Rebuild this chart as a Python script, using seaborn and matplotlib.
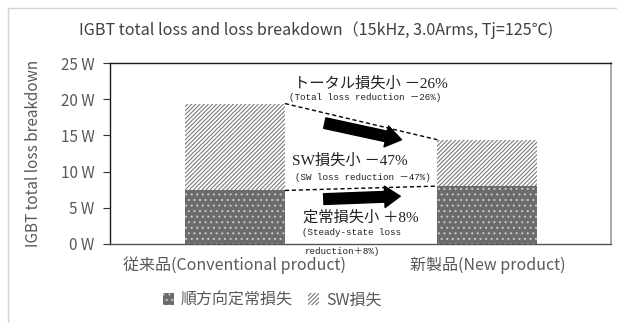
import matplotlib
matplotlib.use("Agg")
import matplotlib.pyplot as plt
import matplotlib.patches as mpatches
import seaborn as sns
import pandas as pd

# Loss breakdown per product (W)
categories = ["従来品(Conventional product)", "新製品(New product)"]
steady_loss = [7.4, 8.0]     # 順方向定常損失
sw_loss = [12.0, 6.4]        # SW損失
y_ticks = [0, 5, 10, 15, 20, 25]
y_tick_labels = ["0 W", "5 W", "10 W", "15 W", "20 W", "25 W"]

title_text = "IGBT total loss and loss breakdown（15kHz, 3.0Arms, Tj=125℃)"
legend_labels = ["順方向定常損失", "SW損失"]

sns.set_theme(style="white")
plt.rcParams["font.family"] = ["Noto Sans CJK JP", "DejaVu Sans"]
plt.rcParams["hatch.linewidth"] = 0.8

GRAY_TXT = "#595959"
STEADY_FC, STEADY_HC = "#6b6b6b", "#c4c4c4"
SW_FC, SW_HC = "white", "#7a7a7a"
SW_HATCH, STEADY_HATCH = "////////", "..."

df = pd.DataFrame({
    "product": categories,
    "steady": steady_loss,
    "sw": sw_loss,
})
df["total"] = df["steady"] + df["sw"]

fig = plt.figure(figsize=(6.17, 3.23), dpi=100)
ax = fig.add_axes([110 / 617, 1 - 244 / 323, 501 / 617, 181 / 323])

bar_w = 0.396
# total height first (SW hatch), steady part drawn over its lower section
n0 = len(ax.patches)
sns.barplot(data=df, x="product", y="total", color=SW_FC, width=bar_w,
            errorbar=None, ax=ax)
total_bars = ax.patches[n0:]
n1 = len(ax.patches)
sns.barplot(data=df, x="product", y="steady", color=STEADY_FC, width=bar_w,
            errorbar=None, ax=ax)
steady_bars = ax.patches[n1:]

for p in total_bars:
    p.set_facecolor(SW_FC)
    p.set_edgecolor(SW_HC)
    p.set_linewidth(0)
    p.set_hatch(SW_HATCH)
for p in steady_bars:
    p.set_facecolor(STEADY_FC)
    p.set_edgecolor(STEADY_HC)
    p.set_linewidth(0)
    p.set_hatch(STEADY_HATCH)

ax.set_xlim(-0.495, 1.49)
ax.set_ylim(0, 25)
ax.set_yticks(y_ticks)
ax.set_yticklabels(y_tick_labels)
ax.tick_params(axis="y", which="major", direction="out", length=5, width=0.8,
               color="#333333", pad=6, labelsize=11, labelcolor=GRAY_TXT, left=True)
ax.tick_params(axis="x", length=0, pad=9, labelsize=11.5, labelcolor=GRAY_TXT)
ax.set_xlabel("")
ax.set_ylabel("IGBT total loss breakdown", fontsize=11, color=GRAY_TXT)
ax.yaxis.set_label_coords(-0.135, 0.5)

for side, col, lw in [("top", "#1a1a1a", 1.0), ("left", "#1a1a1a", 1.0),
                      ("bottom", "#555555", 1.0), ("right", "#9a9a9a", 1.2)]:
    ax.spines[side].set_visible(True)
    ax.spines[side].set_color(col)
    ax.spines[side].set_linewidth(lw)

# dashed guide lines between bar tops
half = bar_w / 2
ax.plot([0 + half, 1 - half], [df["total"][0], df["total"][1]],
        ls=(0, (3, 2)), color="black", lw=1.0)
ax.plot([0 + half, 1 - half], [df["steady"][0], df["steady"][1]],
        ls=(0, (3, 2)), color="black", lw=1.0)

# thick arrows
arrow_style = "simple,head_length=0.8,head_width=1.1,tail_width=0.55"
ax.annotate("", xy=(0.66, 14.4), xytext=(0.356, 16.7),
            arrowprops=dict(arrowstyle=arrow_style, fc="black", ec="black",
                            mutation_scale=14, shrinkA=0, shrinkB=0))
ax.annotate("", xy=(0.655, 6.6), xytext=(0.352, 6.2),
            arrowprops=dict(arrowstyle=arrow_style, fc="black", ec="black",
                            mutation_scale=14, shrinkA=0, shrinkB=0))

jp_font = ["Liberation Serif", "Noto Sans CJK JP"]
en_font = ["Liberation Mono", "Noto Sans CJK JP"]
ax.text(0.54, 22.2, "トータル損失小 －26%", ha="center", va="center",
        fontsize=11, family=jp_font, color="#222222")
ax.text(0.515, 20.3, "(Total loss reduction －26%)", ha="center", va="center",
        fontsize=6.7, family=en_font, color="#222222")
ax.text(0.455, 11.46, "SW損失小 －47%", ha="center", va="center",
        fontsize=11, family=jp_font, color="#222222")
ax.text(0.505, 9.25, "(SW loss reduction －47%)", ha="center", va="center",
        fontsize=6.7, family=en_font, color="#222222")
ax.text(0.497, 3.6, "定常損失小 ＋8%", ha="center", va="center",
        fontsize=11, family=jp_font, color="#222222")
ax.text(0.265, 1.52, "(Steady-state loss", ha="left", va="center",
        fontsize=6.7, family=en_font, color="#222222")
ax.text(0.277, -0.97, "reduction＋8%)", ha="left", va="center",
        fontsize=6.7, family=en_font, color="#222222", clip_on=False)

fig.text(316 / 617, 1 - 30 / 323, title_text, ha="center", va="center",
         fontsize=11.6, color="#404040")

handles = [
    mpatches.Patch(facecolor=STEADY_FC, edgecolor=STEADY_HC, hatch=STEADY_HATCH, lw=0),
    mpatches.Patch(facecolor=SW_FC, edgecolor=SW_HC, hatch=SW_HATCH, lw=0),
]
fig.legend(handles, legend_labels, loc="center", bbox_to_anchor=(272 / 617, 1 - 300 / 323),
           ncol=2, frameon=False, fontsize=11.5, labelcolor=GRAY_TXT,
           handlelength=0.7, handleheight=0.7, handletextpad=0.4, columnspacing=1.0)

# outer chart-area frame
fig.patches.append(mpatches.Rectangle((8 / 617, -0.5), 2, 1.5 - 8 / 323,
                                      transform=fig.transFigure, fill=False,
                                      ec="#d4d4d4", lw=1.0))

fig.savefig("out.png", dpi=100)
